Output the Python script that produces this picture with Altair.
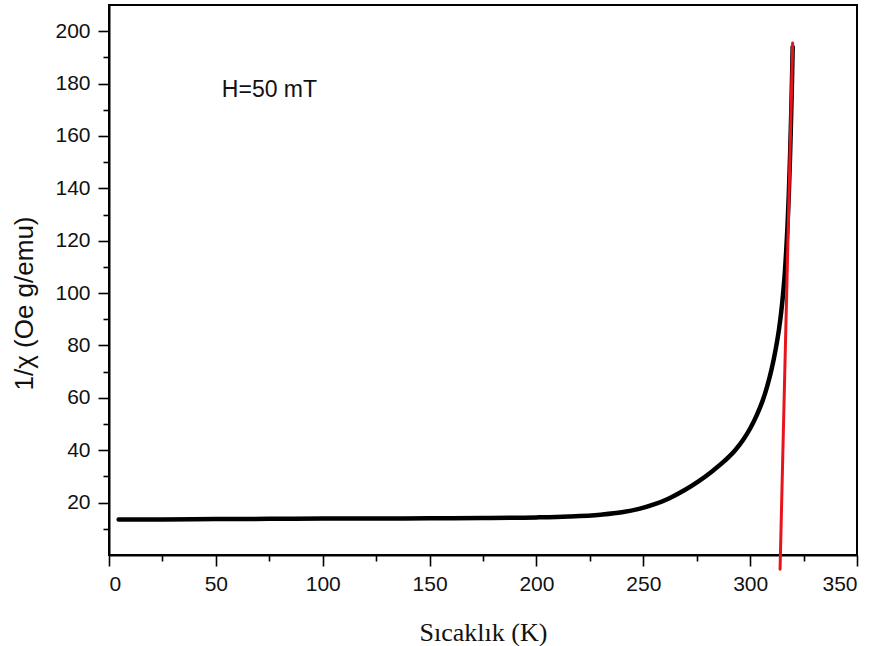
import altair as alt
import pandas as pd

# Black measured curve: temperature (K) and 1/chi (Oe g/emu)
temp_k = [4.5, 25, 50, 75, 100, 125, 150, 175, 200, 215, 230, 240, 248, 255,
          262, 269, 276, 282, 288, 293, 297, 300, 303, 306, 308, 310, 312,
          313.5, 314.5, 315.5, 316.3, 316.9, 317.5, 318.1, 318.7, 319.2,
          319.6, 319.9]
inv_chi = [13.6, 13.6, 13.7, 13.8, 13.9, 13.95, 14.0, 14.1, 14.35, 14.7, 15.4,
           16.3, 17.6, 19.3, 21.6, 24.6, 28.2, 31.8, 35.9, 40.0, 44.3, 48.3,
           53.2, 59.3, 64.5, 70.8, 78.8, 86.2, 92.5, 100.5, 108.5, 116.5,
           126.0, 138.0, 153.0, 168.0, 182.0, 194.0]

# Red linear fit (Curie-Weiss)
fit_t = [314.0, 319.9]
fit_v = [-5.4, 195.5]

x_major = [0, 50, 100, 150, 200, 250, 300, 350]
x_minor = [25, 75, 125, 175, 225, 275, 325]
y_major = [20, 40, 60, 80, 100, 120, 140, 160, 180, 200]
y_minor = [10, 30, 50, 70, 90, 110, 130, 150, 170, 190]

ann_text = ["H=50 mT"]
ann_x = [52.8]
ann_y = [174.8]

df = pd.DataFrame({"T": temp_k, "v": inv_chi})
df_fit = pd.DataFrame({"T": fit_t, "v": fit_v})
df_ann = pd.DataFrame({"T": ann_x, "v": ann_y, "t": ann_text})

xs = alt.Scale(domain=[0, 350], nice=False, zero=False)
ys = alt.Scale(domain=[0, 210], nice=False, zero=False)

SANS = "Liberation Sans"
SERIF = "Liberation Serif"

x_axis = alt.Axis(values=x_major, orient="bottom", tickSize=11, tickWidth=1.6,
                  tickColor="black", domainColor="black", domainWidth=2,
                  labelFont=SANS, labelFontSize=21, labelColor="#111",
                  labelPadding=7, grid=False,
                  title="Sıcaklık (K)", titleFont=SERIF, titleFontSize=26,
                  titleFontWeight="normal", titleColor="#111",
                  titleBaseline="alphabetic", titleY=85)
y_axis = alt.Axis(values=y_major, orient="left", tickSize=11, tickWidth=1.6,
                  tickColor="black", domainColor="black", domainWidth=2,
                  labelFont=SANS, labelFontSize=21, labelColor="#111",
                  labelPadding=8, grid=False,
                  title="1/χ (Oe g/emu)", titleFont=SANS, titleFontSize=26,
                  titleFontWeight="normal", titleColor="#111",
                  titleBaseline="alphabetic", titleX=-77, titleY=298,
                  titleAngle=270)

x_axis_minor = alt.Axis(values=x_minor, orient="bottom", tickSize=6,
                        tickWidth=1.6, tickColor="black", domain=False,
                        labels=False, title=None, grid=False)
y_axis_minor = alt.Axis(values=y_minor, orient="left", tickSize=6,
                        tickWidth=1.6, tickColor="black", domain=False,
                        labels=False, title=None, grid=False)

curve = alt.Chart(df).mark_line(color="black", strokeWidth=4.5,
                                strokeCap="round", strokeJoin="round",
                                interpolate="monotone").encode(
    x=alt.X("T:Q", scale=xs, axis=x_axis),
    y=alt.Y("v:Q", scale=ys, axis=y_axis),
    order="T:Q",
)

minor = alt.Chart(df).mark_line(opacity=0).encode(
    x=alt.X("T:Q", scale=xs, axis=x_axis_minor),
    y=alt.Y("v:Q", scale=ys, axis=y_axis_minor),
)

fit = alt.Chart(df_fit).mark_line(color="#e8141b", strokeWidth=3,
                                  strokeCap="round").encode(
    x=alt.X("T:Q", scale=xs, axis=None),
    y=alt.Y("v:Q", scale=ys, axis=None),
)

ann = alt.Chart(df_ann).mark_text(font=SANS, fontSize=23, align="left",
                                  baseline="alphabetic", color="#111").encode(
    x=alt.X("T:Q", scale=xs, axis=None),
    y=alt.Y("v:Q", scale=ys, axis=None),
    text="t:N",
)

chart = alt.layer(minor, curve, fit, ann).resolve_axis(
    x="independent", y="independent"
).properties(
    width=748, height=550,
    autosize=alt.AutoSizeParams(type="none"),
    padding={"left": 109, "top": 5, "right": 22, "bottom": 91},
    background="white",
).configure_view(stroke="black", strokeWidth=2)

chart.save("out.html", embed_options={"renderer": "svg", "actions": False})
